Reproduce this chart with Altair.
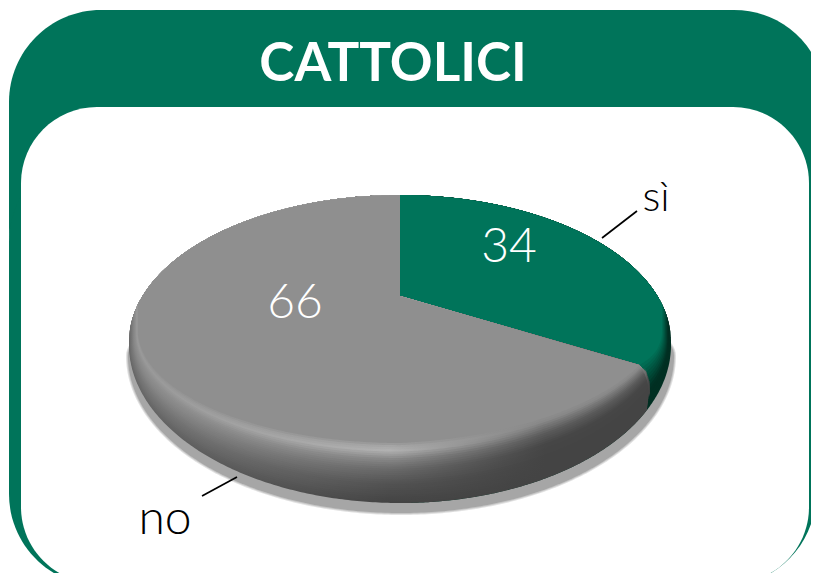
import numpy as np
import pandas as pd
import altair as alt

categories = ["sì", "no"]
values = [34, 66]
title = "CATTOLICI"
GREEN = "#00745a"
DARK_GREEN = "#002f22"
FLAT_GREY = "#8f8f8f"
FONT = "Lato"

CX, CY_BACK, RY_BACK = 400.0, 342.0, 147.0
OUT = dict(rx=271.0, cy=345.0, ry=158.0)
FLAT = dict(rx=262.0, cy=330.0, ry=113.0)
APEX_Y = 296.0

XS = alt.Scale(domain=[8, 811], range=[0, 803], nice=False, zero=False)
YS = alt.Scale(domain=[8, 573], range=[0, 565], nice=False, zero=False)
NOAX = None


def lerp(a, b, t):
    return a + (b - a) * t


def hexs(v):
    v = int(round(v))
    return f"#{v:02x}{v:02x}{v:02x}"


def back(x, rx=OUT["rx"], cy=CY_BACK, ry=RY_BACK):
    u = np.clip((x - CX) / rx, -1, 1)
    return cy - ry * np.sqrt(1 - u * u)


def front(x, t):
    rx = lerp(OUT["rx"], FLAT["rx"], t)
    cy = lerp(OUT["cy"], FLAT["cy"], t)
    ry = lerp(OUT["ry"], FLAT["ry"], t)
    u = np.clip((x - CX) / rx, -1, 1)
    y = cy + ry * np.sqrt(1 - u * u)
    fade = np.clip((CX + rx - x) / 22.0, 0, 1)
    tilt = t * 0.045 * np.maximum(x - CX, 0) * fade
    return y - tilt


def area(df, fill, **mk):
    return alt.Chart(df).mark_area(fill=fill, stroke=None, clip=True, interpolate="linear", **mk).encode(
        x=alt.X("x:Q", scale=XS, axis=NOAX),
        y=alt.Y("y:Q", scale=YS, axis=NOAX),
        y2="y2:Q",
    )


def rect(x0, x1, y0, y1, r, fill):
    d = pd.DataFrame({"a": [x0], "b": [x1], "c": [y0], "d": [y1]})
    return alt.Chart(d).mark_rect(fill=fill, cornerRadius=r, clip=True).encode(
        x=alt.X("a:Q", scale=XS, axis=NOAX), x2="b:Q",
        y=alt.Y("c:Q", scale=YS, axis=NOAX), y2="d:Q",
    )


layers = [
    rect(9, 826, 10, 320, 92, GREEN),
    rect(9, 816, 150, 586, 92, GREEN),
    rect(21, 809, 107, 583, 76, "#ffffff"),
]

# soft drop shadow
for grow, col in [(2.0, "#e2e2e2"), (1.0, "#c6c6c6"), (0.0, "#a6a6a6")]:
    rx = 273 + grow
    x = CX + 1.0 + rx * np.sin(np.linspace(-np.pi / 2, np.pi / 2, 240))
    s = np.sqrt(np.clip(1 - ((x - CX - 1.0) / rx) ** 2, 0, 1))
    layers.append(area(pd.DataFrame({"x": x, "y": 356 - 70 * s, "y2": 356 + (157 + grow) * s}), col))

# direction of the boundary between the two slices, from the value
share = values[0] / sum(values)
theta = 2 * np.pi * share * 0.93
x_edge = CX + FLAT["rx"] * np.sin(theta)
y_edge = APEX_Y - 171.0 * np.cos(theta)

# green slice: rim bands then face
steps = np.linspace(0, 1, 13)
for t in steps:
    rx = lerp(OUT["rx"], FLAT["rx"], t)
    x = CX + rx * np.sin(np.linspace(0, np.pi / 2, 200))
    k = np.clip((t - 0.3) / 0.7, 0, 1)
    g = [lerp(int(DARK_GREEN[i:i + 2], 16), int(GREEN[i:i + 2], 16), k) for i in (1, 3, 5)]
    col = "#" + "".join(f"{int(round(v)):02x}" for v in g)
    layers.append(area(pd.DataFrame({"x": x, "y": back(x), "y2": front(x, t)}), col))

# grey slice upper limit, including the curved end cap
capx = [x_edge, 645.0, 648.0, 649.5]
capy = [y_edge, 374.0, 383.0, 397.0]


def grey_top(x):
    line = APEX_Y + (y_edge - APEX_Y) * (x - CX) / (x_edge - CX)
    out = np.where(x < CX, back(x), line)
    return np.where(x > x_edge, np.interp(x, capx, capy), out)


# band profile: offset along the rim -> shade at left / middle / right of slice
prof_t = [0.0, 0.3, 0.55, 0.72, 0.86, 0.93, 1.0]
prof_l = [0x66, 0x78, 0x88, 0x90, 0x9a, 0x96, 0x8f]
prof_m = [0x44, 0x52, 0x6a, 0x88, 0xb2, 0xa6, 0x8f]
prof_r = [0x44, 0x44, 0x46, 0x5a, 0x78, 0x88, 0x8f]
cap_t = [0.0, 0.25, 0.5, 0.8, 1.0]
cap_x = [647.0, 649.0, 649.5, 646.0, x_edge]

steps = np.linspace(0, 1, 29)
for t in steps:
    rx = lerp(OUT["rx"], FLAT["rx"], t)
    xe = float(np.interp(t, cap_t, cap_x))
    left = CX - rx * np.sin(np.linspace(np.pi / 2, 0, 140))
    right = np.linspace(CX, xe, 140)
    x = np.concatenate([left, right])
    ytop = np.concatenate([back(left), grey_top(right)])
    ybot = front(x, t)
    fill = alt.Gradient(
        gradient="linear", x1=0, x2=1, y1=0, y2=0,
        stops=[
            alt.GradientStop(color=hexs(np.interp(t, prof_t, prof_l)), offset=0.03),
            alt.GradientStop(color=hexs(np.interp(t, prof_t, prof_m)), offset=0.5),
            alt.GradientStop(color=hexs(np.interp(t, prof_t, prof_r)), offset=0.8),
        ],
    )
    layers.append(area(pd.DataFrame({"x": x, "y": ytop, "y2": ybot}), FLAT_GREY if t == 1 else fill))

# leader lines
leaders_x = [602, 202]
leaders_x2 = [637, 237]
leaders_y = [238, 496]
leaders_y2 = [211, 477]
layers.append(
    alt.Chart(pd.DataFrame({"a": leaders_x, "b": leaders_x2, "c": leaders_y, "d": leaders_y2}))
    .mark_rule(color="#000000", strokeWidth=1.7)
    .encode(x=alt.X("a:Q", scale=XS, axis=NOAX), x2="b:Q", y=alt.Y("c:Q", scale=YS, axis=NOAX), y2="d:Q")
)


def text(label, x, y, size, color, weight="normal"):
    return alt.Chart(pd.DataFrame({"x": [x], "y": [y], "t": [label]})).mark_text(
        fontSize=size, font=FONT, fontWeight=weight, color=color, align="center", baseline="middle"
    ).encode(x=alt.X("x:Q", scale=XS, axis=NOAX), y=alt.Y("y:Q", scale=YS, axis=NOAX), text="t:N")


layers += [
    text(title, 393, 64.5, 53, "#ffffff", "bold"),
    text(str(values[0]), 509, 248, 48, "#ffffff", 300),
    text(str(values[1]), 295, 304, 48, "#ffffff", 300),
    text(categories[0], 656, 198, 42, "#000000", 300),
    text(categories[1], 165, 520, 48, "#000000", 300),
]

chart = alt.layer(*layers).properties(width=803, height=565, padding=0, background="#ffffff").configure_view(strokeWidth=0)
chart.save("out.html", embed_options={"renderer": "svg", "actions": False})
